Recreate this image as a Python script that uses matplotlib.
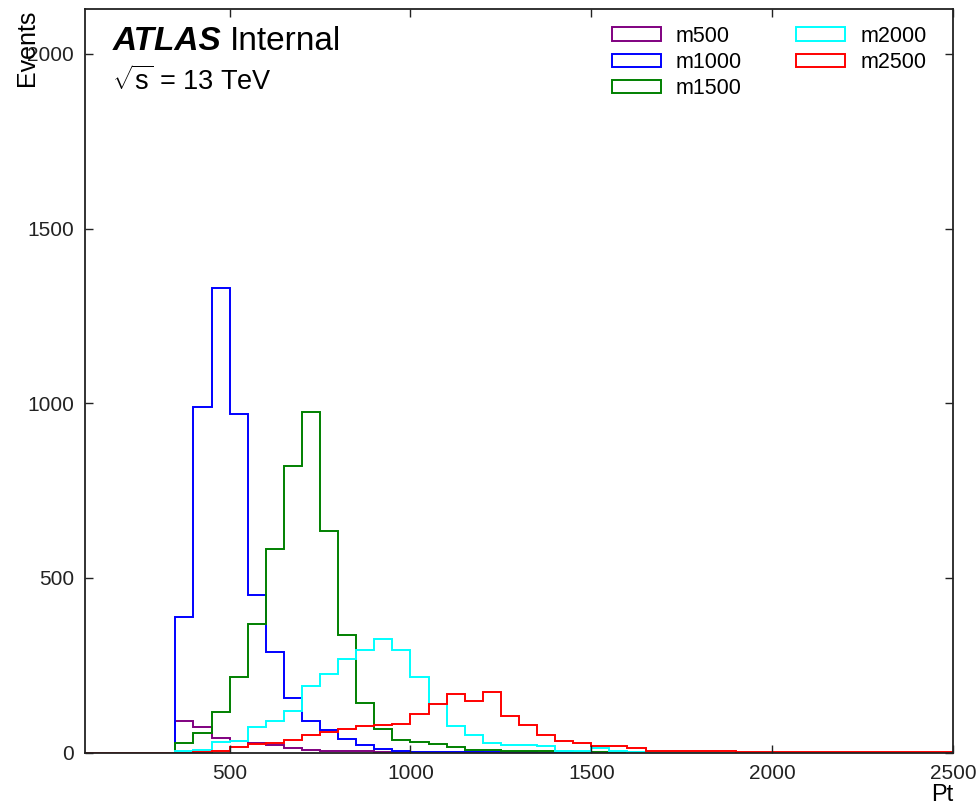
import numpy as np
import matplotlib
matplotlib.use("Agg")
import matplotlib.pyplot as plt
import matplotlib.patches as mpatches

plt.rcParams['font.family'] = ['Liberation Sans', 'DejaVu Sans']
plt.rcParams['mathtext.fontset'] = 'custom'
plt.rcParams['mathtext.rm'] = 'Liberation Sans'
plt.rcParams['mathtext.it'] = 'Liberation Sans'
plt.rcParams['mathtext.bf'] = 'Liberation Sans:bold'

# Pt binning: 50 GeV bins from 100 to 2500
bin_edges = np.arange(100, 2550, 50)

m500 = [0, 0, 0, 0, 0,
        91, 73, 41, 32, 28, 23, 13, 7, 6, 5, 4, 3, 3, 2, 1, 1, 1,
        0, 0, 0, 0, 0, 0, 0, 0, 0, 0, 0, 0, 0, 0, 0, 0, 0, 0, 0, 0,
        0, 0, 0, 0, 0, 0]
m1000 = [0, 0, 0, 0, 0,
         389, 990, 1330, 970, 451, 287, 156, 92, 64, 40, 23, 11, 6, 3, 3,
         2, 2, 1, 1, 1,
         0, 0, 0, 0, 0, 0, 0, 0, 0, 0, 0, 0, 0, 0, 0, 0, 0, 0, 0, 0,
         0, 0, 0]
m1500 = [0, 0, 0, 0, 0,
         27, 55, 116, 216, 368, 582, 820, 975, 634, 337, 142, 69, 37, 30,
         26, 16, 9, 8, 6, 5, 4, 4, 3, 3, 2, 2, 1, 1, 1,
         0, 0, 0, 0, 0, 0, 0, 0, 0, 0, 0, 0, 0, 0]
m2000 = [0, 0, 0, 0, 0,
         4, 9, 30, 34, 73, 90, 118, 191, 226, 269, 293, 326, 293, 218,
         139, 75, 51, 28, 22, 22, 18, 4, 4, 12, 4, 3, 2, 1, 1, 1,
         0, 0, 0, 0, 0, 0, 0, 0, 0, 0, 0, 0, 0]
m2500 = [0, 0, 0, 0, 0,
         0, 2, 5, 16, 25, 27, 35, 50, 60, 68, 77, 80, 83, 111, 139, 168,
         147, 175, 104, 80, 51, 34, 27, 19, 19, 12, 6, 4, 4, 4, 4, 2, 2,
         2, 2, 2, 1, 2, 1, 1, 1, 1, 1]

series_labels = ['m500', 'm1000', 'm1500', 'm2000', 'm2500']
series_values = [m500, m1000, m1500, m2000, m2500]
series_colors = ['purple', 'blue', 'green', 'cyan', 'red']

x_ticks = [500, 1000, 1500, 2000, 2500]
y_ticks = [0, 500, 1000, 1500, 2000]

fig = plt.figure(figsize=(9.79, 8.05), dpi=100)
ax = fig.add_axes([0.0868, 0.065, 0.8866, 0.9235])

handles = []
for lab, vals, col in zip(series_labels, series_values, series_colors):
    assert len(vals) == len(bin_edges) - 1
    ax.stairs(vals, bin_edges, color=col, lw=1.4, baseline=0)
    handles.append(mpatches.Patch(facecolor='none', edgecolor=col, lw=1.4, label=lab))

ax.set_xlim(100, 2500)
ax.set_ylim(0, 1.6 * max(m1000))
ax.set_xticks(x_ticks)
ax.set_yticks(y_ticks)
ax.tick_params(direction='in', top=True, right=True, length=6, width=1,
               labelsize=15, pad=8, colors='#222222')
for sp in ax.spines.values():
    sp.set_linewidth(1.3)
    sp.set_color('#222222')

ax.set_xlabel('Pt', fontsize=17, loc='right', labelpad=1)
ax.set_ylabel('Events', fontsize=18, loc='top')
ax.yaxis.set_label_coords(-0.053, 1.0)

atlas = ax.text(0.032, 0.945, 'ATLAS', transform=ax.transAxes, fontsize=24,
                fontweight='bold', fontstyle='italic', va='baseline', ha='left')
ax.annotate('Internal', xy=(1, 0), xycoords=atlas, xytext=(6, 0),
            textcoords='offset points', fontsize=24, va='bottom', ha='left')
ax.text(0.031, 0.891, r'$\sqrt{s}$ = 13 TeV', transform=ax.transAxes,
        fontsize=19.5, va='baseline', ha='left')

ax.legend(handles=handles, ncol=2, loc='upper left',
          bbox_to_anchor=(0.607, 0.978), frameon=False, fontsize=15.5,
          handlelength=2.28, handleheight=0.56, handletextpad=0.7,
          columnspacing=2.5, labelspacing=0.24, borderpad=0, borderaxespad=0)

fig.savefig('out.png', dpi=100)
